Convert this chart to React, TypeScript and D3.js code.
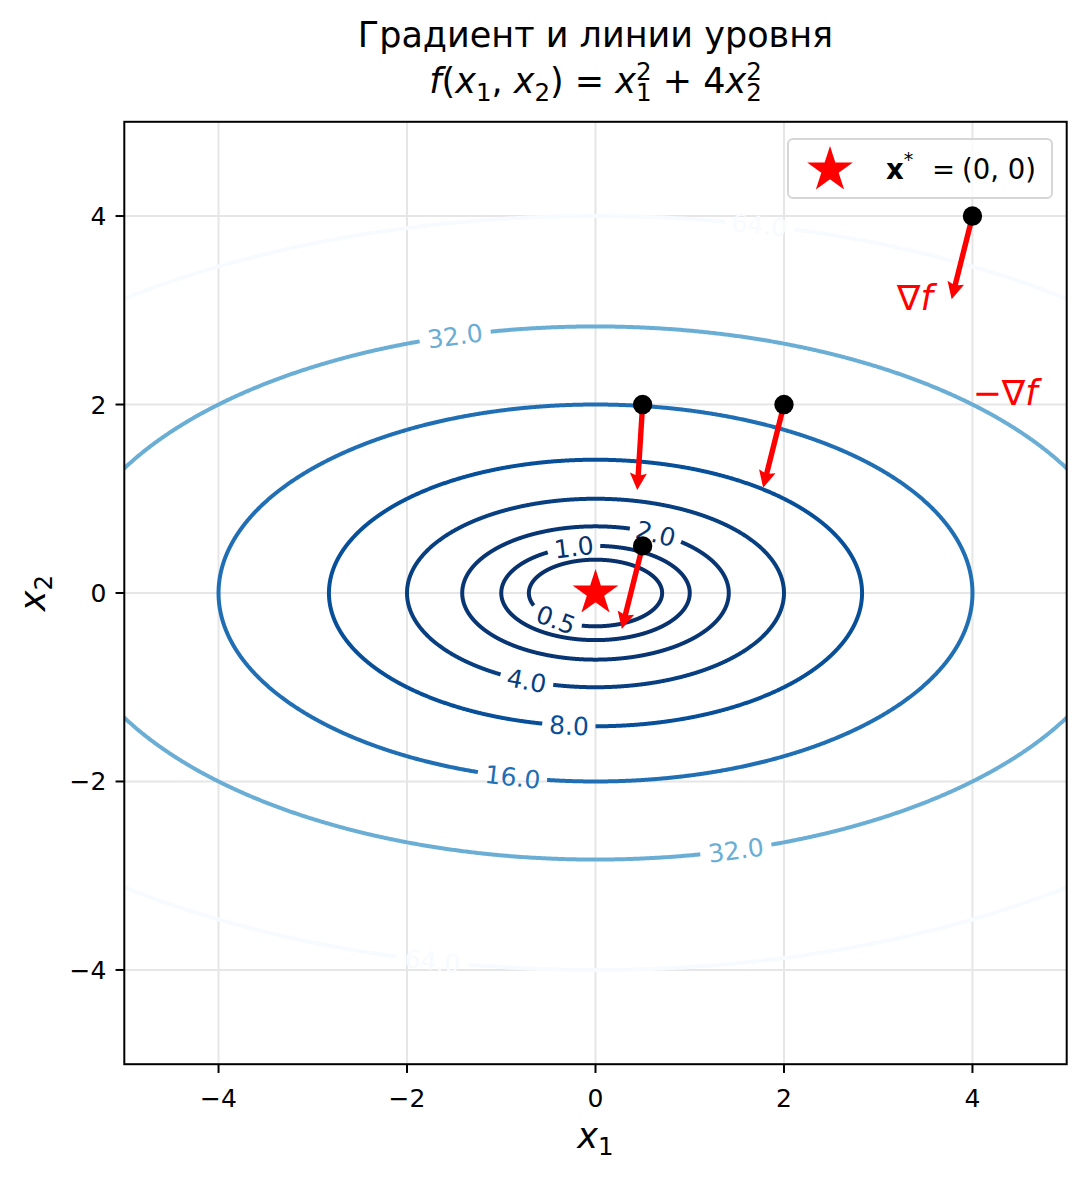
import React from 'react';
import * as d3 from 'd3';

// ---- data ----
const levels = [0.5, 1, 2, 4, 8, 16, 32, 64];
// label anchor positions along each contour: x1 coordinate and side (+1 upper, -1 lower)
const labelLevels = [64, 64, 32, 32, 16, 8, 4, 2, 1, 0.5];
const labelX1 = [1.74, -1.73, -1.49, 1.49, -0.88, -0.28, -0.73, 0.64, -0.23, -0.42];
const labelSide = [1, -1, 1, -1, -1, -1, -1, 1, 1, -1];
const pointsX1 = [0.5, 2, 4, 0.5];
const pointsX2 = [2, 2, 4, 0.5];
const ticks = [-4, -2, 0, 2, 4];
const arrowLength = 0.91;
const blues = ['#f7fbff', '#deebf7', '#c6dbef', '#9ecae1', '#6baed6', '#4292c6', '#2171b5', '#08519c', '#08306b'];

const W = 1087, H = 1177;
const L = 124.3, R = 1066.7, T = 121.8, B = 1064.2;
const FONT = 'DejaVu Sans, sans-serif';

const xs = d3.scaleLinear().domain([-5, 5]).range([L, R]);
const ys = d3.scaleLinear().domain([-5, 5]).range([B, T]);
const interp = d3.piecewise(d3.interpolateRgb, blues);
const colorOf = (lv: number) => interp(1 - (lv - levels[0]) / (levels[levels.length - 1] - levels[0]));
const fmt = (v: number) => v.toFixed(1);
const tickFmt = (v: number) => (v < 0 ? '\u2212' + Math.abs(v) : String(v));

function labelWidth(s: string, fs: number) {
  let w = 0;
  for (const c of s) w += c === '.' ? 0.318 : 0.636;
  return w * fs;
}

type Lab = { lv: number; px: number; py: number; angle: number; text: string; gap: number };

const labels: Lab[] = labelLevels.map((lv, i) => {
  const a = Math.sqrt(lv), b = a / 2;
  const x1 = labelX1[i];
  const x2 = labelSide[i] * Math.sqrt(Math.max(0, (lv - x1 * x1) / 4));
  const cost = x1 / a, sint = x2 / b;
  const kx = xs(1) - xs(0), ky = ys(0) - ys(1);
  const dx = -a * sint * kx, dy = -b * cost * ky;
  let ang = (Math.atan2(dy, dx) * 180) / Math.PI;
  if (ang > 90) ang -= 180;
  if (ang < -90) ang += 180;
  const text = fmt(lv);
  return { lv, px: xs(x1), py: ys(x2), angle: ang, text, gap: labelWidth(text, 25) / 2 + 6.5 };
});

function contourPaths(lv: number): string[] {
  const a = Math.sqrt(lv), b = a / 2;
  const N = 2000;
  const pts: [number, number][] = [];
  for (let i = 0; i < N; i++) {
    const t = (2 * Math.PI * i) / N;
    pts.push([xs(a * Math.cos(t)), ys(b * Math.sin(t))]);
  }
  const labs = labels.filter((l) => l.lv === lv);
  const hidden = pts.map((p) => labs.some((l) => Math.hypot(p[0] - l.px, p[1] - l.py) < l.gap));
  const line = d3.line();
  if (!hidden.some(Boolean)) return [line(pts)! + 'Z'];
  const start = hidden.indexOf(true);
  const out: string[] = [];
  let cur: [number, number][] = [];
  for (let k = 0; k <= N; k++) {
    const idx = (start + k) % N;
    if (hidden[idx]) {
      if (cur.length > 1) out.push(line(cur)!);
      cur = [];
    } else cur.push(pts[idx]);
  }
  if (cur.length > 1) out.push(line(cur)!);
  return out;
}

function starPath(cx: number, cy: number, r: number) {
  const pts: string[] = [];
  const ri = r * 0.381966;
  for (let i = 0; i < 10; i++) {
    const ang = -Math.PI / 2 + (i * Math.PI) / 5;
    const rr = i % 2 === 0 ? r : ri;
    pts.push(`${cx + rr * Math.cos(ang)},${cy + rr * Math.sin(ang)}`);
  }
  return 'M' + pts.join('L') + 'Z';
}

function arrowPath(x1: number, x2: number) {
  const g1 = 2 * x1, g2 = 8 * x2;
  const gn = Math.hypot(g1, g2);
  const ex = x1 - (g1 / gn) * arrowLength, ey = x2 - (g2 / gn) * arrowLength;
  const S = [xs(x1), ys(x2)], E = [xs(ex), ys(ey)];
  const len = Math.hypot(E[0] - S[0], E[1] - S[1]);
  const u = [(E[0] - S[0]) / len, (E[1] - S[1]) / len];
  const n = [-u[1], u[0]];
  const w = 5.4, hl = 17, hw = 17, hal = 15;
  const P = (base: number[], along: number, perp: number) => [base[0] + u[0] * along + n[0] * perp, base[1] + u[1] * along + n[1] * perp];
  const poly = [
    P(S, 0, w / 2), P(E, -hal, w / 2), P(E, -hl, hw / 2), E, P(E, -hl, -hw / 2), P(E, -hal, -w / 2), P(S, 0, -w / 2),
  ];
  return 'M' + poly.map((p) => p.join(',')).join('L') + 'Z';
}

export default function App() {
  const sub = 24.5;
  return (
    <svg width={W} height={H} style={{ position: 'absolute', left: 0, top: 0, background: '#fff' }} fontFamily={FONT}>
      <defs>
        <clipPath id="plotclip">
          <rect x={L} y={T} width={R - L} height={B - T} />
        </clipPath>
      </defs>
      <rect x={0} y={0} width={W} height={H} fill="#fff" />
      {/* grid */}
      <g stroke="#e6e6e6" strokeWidth={2}>
        {ticks.map((t) => (
          <line key={'gx' + t} x1={xs(t)} x2={xs(t)} y1={T} y2={B} />
        ))}
        {ticks.map((t) => (
          <line key={'gy' + t} x1={L} x2={R} y1={ys(t)} y2={ys(t)} />
        ))}
      </g>
      {/* contours */}
      <g clipPath="url(#plotclip)" fill="none" strokeWidth={4}>
        {levels.map((lv) =>
          contourPaths(lv).map((d, i) => <path key={lv + '-' + i} d={d} stroke={colorOf(lv)} />)
        )}
      </g>
      {/* contour labels */}
      <g fontSize={25} textAnchor="middle">
        {labels.map((l, i) => (
          <text key={'cl' + i} x={l.px} y={l.py} dy={9} fill={colorOf(l.lv)} transform={`rotate(${l.angle},${l.px},${l.py})`}>
            {l.text}
          </text>
        ))}
      </g>
      {/* arrows */}
      <g fill="#ff0000">
        {pointsX1.map((p, i) => (
          <path key={'ar' + i} d={arrowPath(p, pointsX2[i])} />
        ))}
      </g>
      {/* points */}
      {pointsX1.map((p, i) => (
        <circle key={'pt' + i} cx={xs(p)} cy={ys(pointsX2[i])} r={9.7} fill="#000" />
      ))}
      {/* optimum star */}
      <path d={starPath(xs(0), ys(0), 20)} fill="#ff0000" stroke="#ff0000" strokeWidth={2.5} />
      {/* gradient labels */}
      <text x={xs(3.2)} y={ys(3.0)} fontSize={35} fill="#ff0000">
        <tspan>∇</tspan>
        <tspan fontStyle="italic">f</tspan>
      </text>
      <text x={xs(4.0)} y={ys(2.0)} fontSize={35} fill="#ff0000">
        <tspan>−∇</tspan>
        <tspan fontStyle="italic">f</tspan>
      </text>
      {/* frame */}
      <rect x={L} y={T} width={R - L} height={B - T} fill="none" stroke="#000" strokeWidth={2} />
      {/* ticks */}
      <g stroke="#000" strokeWidth={2}>
        {ticks.map((t) => (
          <line key={'tx' + t} x1={xs(t)} x2={xs(t)} y1={B} y2={B + 8.75} />
        ))}
        {ticks.map((t) => (
          <line key={'ty' + t} x1={L} x2={L - 8.75} y1={ys(t)} y2={ys(t)} />
        ))}
      </g>
      <g fontSize={25} fill="#000">
        {ticks.map((t) => (
          <text key={'lx' + t} x={xs(t)} y={B + 43} textAnchor="middle">
            {tickFmt(t)}
          </text>
        ))}
        {ticks.map((t) => (
          <text key={'ly' + t} x={L - 18} y={ys(t) + 9} textAnchor="end">
            {tickFmt(t)}
          </text>
        ))}
      </g>
      {/* axis labels */}
      <text x={xs(0)} y={1148} fontSize={35} textAnchor="middle">
        <tspan fontStyle="italic">x</tspan>
        <tspan fontSize={sub} dy={7}>1</tspan>
      </text>
      <text transform={`translate(45,${ys(0)}) rotate(-90)`} fontSize={35} textAnchor="middle">
        <tspan fontStyle="italic">x</tspan>
        <tspan fontSize={sub} dy={7}>2</tspan>
      </text>
      {/* title */}
      <text x={xs(0)} y={47} fontSize={35} textAnchor="middle">
        Градиент и линии уровня
      </text>
      <text x={xs(0)} y={93} fontSize={35} textAnchor="middle">
        <tspan fontStyle="italic">f</tspan>
        <tspan>(</tspan>
        <tspan fontStyle="italic">x</tspan>
        <tspan fontSize={sub} dy={8}>1</tspan>
        <tspan dy={-8}>, </tspan>
        <tspan fontStyle="italic">x</tspan>
        <tspan fontSize={sub} dy={8}>2</tspan>
        <tspan dy={-8}>) = </tspan>
        <tspan fontStyle="italic">x</tspan>
        <tspan fontSize={sub} dy={8}>1</tspan>
        <tspan fontSize={sub} dx={-15.6} dy={-21}>2</tspan>
        <tspan dy={13}> + 4</tspan>
        <tspan fontStyle="italic">x</tspan>
        <tspan fontSize={sub} dy={8}>2</tspan>
        <tspan fontSize={sub} dx={-15.6} dy={-21}>2</tspan>
      </text>
      {/* legend */}
      <rect x={788} y={139} width={264} height={59} rx={5} fill="#fff" fillOpacity={0.8} stroke="#d6d6d6" strokeWidth={2} />
      <path d={starPath(830, 170, 20)} fill="#ff0000" stroke="#ff0000" strokeWidth={2.5} />
      <text x={886} y={179} fontSize={27.5}>
        <tspan fontWeight="bold">x</tspan>
        <tspan fontSize={19} dy={-13}>*</tspan>
        <tspan x={932} dy={13}>=</tspan>
        <tspan x={962}>(0, 0)</tspan>
      </text>
    </svg>
  );
}
